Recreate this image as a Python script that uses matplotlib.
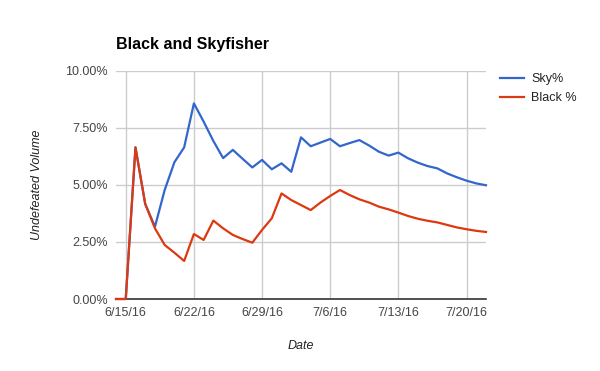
import matplotlib
matplotlib.use("Agg")
import matplotlib.pyplot as plt
import numpy as np
import pandas as pd

dates = pd.date_range("2016-06-14", "2016-07-22", freq="D")
sky = [0.00, 0.00, 6.65, 4.17, 3.17, 4.78, 6.00, 6.65, 8.58, 7.78,
       6.93, 6.18, 6.54, 6.15, 5.77, 6.10, 5.69, 5.95, 5.58, 7.09,
       6.70, 6.86, 7.02, 6.70, 6.84, 6.97, 6.73, 6.46, 6.29, 6.42,
       6.17, 5.98, 5.83, 5.73, 5.51, 5.34, 5.19, 5.07, 4.99]
black = [0.00, 0.00, 6.65, 4.17, 3.10, 2.37, 2.03, 1.67, 2.85, 2.59,
         3.44, 3.10, 2.81, 2.63, 2.47, 3.03, 3.54, 4.63, 4.34, 4.12,
         3.90, 4.23, 4.52, 4.78, 4.56, 4.37, 4.23, 4.05, 3.93, 3.79,
         3.64, 3.52, 3.43, 3.36, 3.25, 3.14, 3.06, 2.99, 2.94]
xtick_dates = ["2016-06-15", "2016-06-22", "2016-06-29", "2016-07-06", "2016-07-13", "2016-07-20"]
xtick_labels = ["6/15/16", "6/22/16", "6/29/16", "7/6/16", "7/13/16", "7/20/16"]
yticks = [0, 2.5, 5, 7.5, 10]
ytick_labels = ["0.00%", "2.50%", "5.00%", "7.50%", "10.00%"]

plt.rcParams['font.family'] = ['Liberation Sans', 'DejaVu Sans']

fig = plt.figure(figsize=(6, 3.71), dpi=100)
ax = fig.add_axes([116/600, 72/371, 370/600, 228/371])

l1, = ax.plot(dates, sky, color="#3366cc", lw=1.6, label="Sky%", zorder=4, clip_on=False)
l2, = ax.plot(dates, black, color="#dc3912", lw=1.6, label="Black %", zorder=5, clip_on=False)

ax.set_xlim(dates[0], dates[-1])
ax.set_ylim(0, 10)
ax.set_yticks(yticks)
ax.set_yticklabels(ytick_labels)
ax.set_xticks(pd.to_datetime(xtick_dates))
ax.set_xticklabels(xtick_labels)
ax.grid(True, color="#cccccc", lw=1)
ax.set_axisbelow(True)
for s in ["top", "right", "left"]:
    ax.spines[s].set_visible(False)
ax.spines["bottom"].set_color("#333333")
ax.spines["bottom"].set_linewidth(1.2)
ax.spines["bottom"].set_zorder(3)
ax.tick_params(length=0, labelsize=9, colors="#444444", pad=6)

ax.set_ylabel("Undefeated Volume", fontsize=9, style="italic", color="#222222", labelpad=16)
ax.set_xlabel("Date", fontsize=9, style="italic", color="#222222", labelpad=15)

fig.text(116/600, 1 - 45/371, "Black and Skyfisher", fontsize=11.5, fontweight="bold", va="center", ha="left", color="#000000")

fig.legend(handles=[l1, l2], loc="upper left", bbox_to_anchor=(489/600, 1 - 62/371),
           frameon=False, fontsize=9, handlelength=1.9, labelspacing=0.55, handletextpad=0.6,
           labelcolor="#222222")

fig.savefig("out.png", dpi=100)
